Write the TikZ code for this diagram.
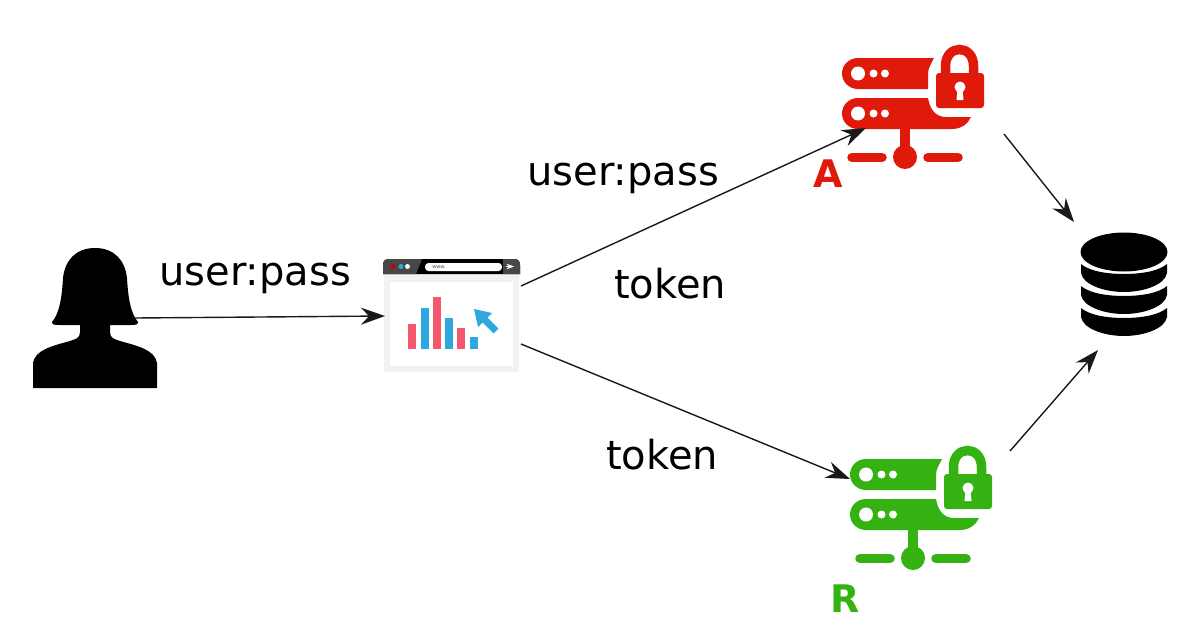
\documentclass[tikz,border=0pt]{standalone}
\usepackage{fontspec}
\setmainfont{DejaVu Sans}
\newfontfamily\boldlabel{DejaVu Sans}[BoldFont={DejaVu Sans Bold}]
\usetikzlibrary{arrows.meta}
\definecolor{srvred}{HTML}{E01A0B}
\definecolor{srvgreen}{HTML}{33B212}
\definecolor{barred}{HTML}{F4566B}
\definecolor{barblue}{HTML}{2FA8E0}
\tikzset{
  flow/.style={draw=black!90,line width=1.4pt,-{Stealth[length=24pt,width=17pt,inset=8pt]}},
  lab/.style={font=\fontsize{40}{44}\selectfont,text=black,inner sep=0pt,anchor=base},
  tag/.style={font=\boldlabel\bfseries\fontsize{38}{40}\selectfont,inner sep=0pt},
  silhouette/.style={fill=black,draw=none},
}
\newcommand{\servericon}[3]{%
\begin{scope}[shift={(#1,#2)}]
 \fill[#3] (858,58) -- (934,58) .. controls (931,64) and (928,68) .. (928,74) -- (928,89) -- (858,89)
   .. controls (849,89) and (842,82) .. (842,73.5) .. controls (842,65) and (849,58) .. (858,58) -- cycle;
 \fill[#3] (858,98) -- (928,98) .. controls (930,110) and (936,117) .. (946,117) -- (971,117)
   .. controls (968,124) and (961,129) .. (952,129) -- (858,129)
   .. controls (849,129) and (842,122) .. (842,113.5) .. controls (842,105) and (849,98) .. (858,98) -- cycle;
 \foreach \yy in {73.5,113.5}{
   \fill[white] (858,\yy) circle (7);
   \fill[white] (873.5,\yy) circle (4);
   \fill[white] (885,\yy) circle (4);
 }
 \fill[#3,rounded corners=3] (936,73) rectangle (984,108);
 \draw[#3,line width=9.5] (945.5,75) -- (945.5,66) .. controls (945.5,44) and (973.5,44) .. (973.5,66) -- (973.5,75);
 \fill[white] (960,87) circle (5.5);
 \fill[white] (957.5,88) -- (962.5,88) -- (963.5,100) -- (956.5,100) -- cycle;
 \fill[#3] (900,129) rectangle (910,150);
 \fill[#3] (905,157) circle (12);
 \draw[#3,line width=9.5,line cap=round] (852,157.5) -- (882,157.5);
 \draw[#3,line width=9.5,line cap=round] (928,157.5) -- (958,157.5);
\end{scope}}
\newcommand{\dbband}[1]{%
 \fill[black] (1081,#1) -- (1081,#1+9) .. controls (1083,#1+21) and (1105,#1+28) .. (1124,#1+28)
   .. controls (1143,#1+28) and (1165,#1+21) .. (1167,#1+9) -- (1167,#1)
   .. controls (1160,#1+6) and (1145,#1+10) .. (1124,#1+10)
   .. controls (1103,#1+10) and (1088,#1+6) .. (1081,#1) -- cycle;}
\begin{document}
\begin{tikzpicture}[x=1pt,y=-1pt]
\useasboundingbox (0,0) rectangle (1199,629);
\fill[white] (0,0) rectangle (1199,629);

% person
\fill[silhouette] (95,248) .. controls (76,248) and (65,260) .. (63,278)
  .. controls (62,295) and (60,313) .. (52,322) .. controls (52,325) and (55,325) .. (60,325)
  -- (80,325) -- (80,332) .. controls (80,338) and (76,339) .. (70,341)
  .. controls (52,346) and (35,350) .. (33,363) -- (33,388) -- (157,388) -- (157,363)
  .. controls (155,350) and (138,346) .. (120,341) .. controls (114,339) and (110,338) .. (110,332)
  -- (110,325) -- (130,325) .. controls (135,325) and (138,325) .. (138,322)
  .. controls (130,313) and (128,295) .. (127,278) .. controls (125,260) and (114,248) .. (95,248) -- cycle;
\coordinate (personport) at (135,318);

% browser
\fill[black!5] (384,272) rectangle (519,372);
\fill[white] (390,282) rectangle (513,366);
\fill[black] (383,274) -- (383,265) .. controls (383,261) and (385,259) .. (389,259) -- (514,259)
  .. controls (518,259) and (520,261) .. (520,265) -- (520,274) -- cycle;
\fill[black!72] (383,274) -- (383,265) .. controls (383,261) and (385,259) .. (389,259) -- (422,259) -- (416,274) -- cycle;
\fill[black!72] (503,274) -- (503,259) -- (514,259) .. controls (518,259) and (520,261) .. (520,265) -- (520,274) -- cycle;
\fill[red!80!black] (393,266.5) circle (2.5);
\fill[barblue] (401,266.5) circle (2.5);
\fill[white] (407.5,266.5) circle (2.5);
\fill[white,rounded corners=3.5] (425,263) rectangle (502,271);
\node[inner sep=0pt,font=\fontsize{5}{5}\selectfont,text=black!70] (urltext) at (439,267) {www.};
\draw[white,line width=1,->,>=Stealth] (506,266.5) -- (514,266.5);
\foreach \xa/\ya/\cc in {408/324/barred,421/308/barblue,433/297/barred,445/318/barblue,457/328/barred,470/337/barblue}{
  \fill[\cc] (\xa,\ya) rectangle (\xa+8,349);
}
\fill[barblue] (474,309) -- (492,313) -- (478,327) -- cycle;
\draw[barblue,line width=7] (482,317) -- (496,331);
\coordinate (browserin) at (385,316);
\coordinate (browserup) at (521,286);
\coordinate (browserdown) at (521,344);

% servers
\servericon{0}{0}{srvred}
\servericon{8}{401}{srvgreen}
\coordinate (aport) at (866,128);
\coordinate (aout) at (1004,134);
\coordinate (rport) at (850,479);
\coordinate (rout) at (1010,451);
\node[tag,text=srvred] (atag) at (828,174) {A};
\node[tag,text=srvgreen] (rtag) at (845,598.5) {R};

% database
\dbband{308}
\dbband{286}
\dbband{264}
\fill[black] (1124,252) ellipse (43.5 and 19.5);
\coordinate (dbtop) at (1074,222);
\coordinate (dbbot) at (1098,350);

% connectors
\draw[flow] (personport) -- (browserin);
\draw[flow] (browserup) -- (aport);
\draw[flow] (browserdown) -- (rport);
\draw[flow] (aout) -- (dbtop);
\draw[flow] (rout) -- (dbbot);

% labels
\node[lab] (l1) at (255,285) {user:pass};
\node[lab] (l2) at (623,185) {user:pass};
\node[lab] (l3) at (670,298) {token};
\node[lab] (l4) at (662,469) {token};
\end{tikzpicture}
\end{document}
